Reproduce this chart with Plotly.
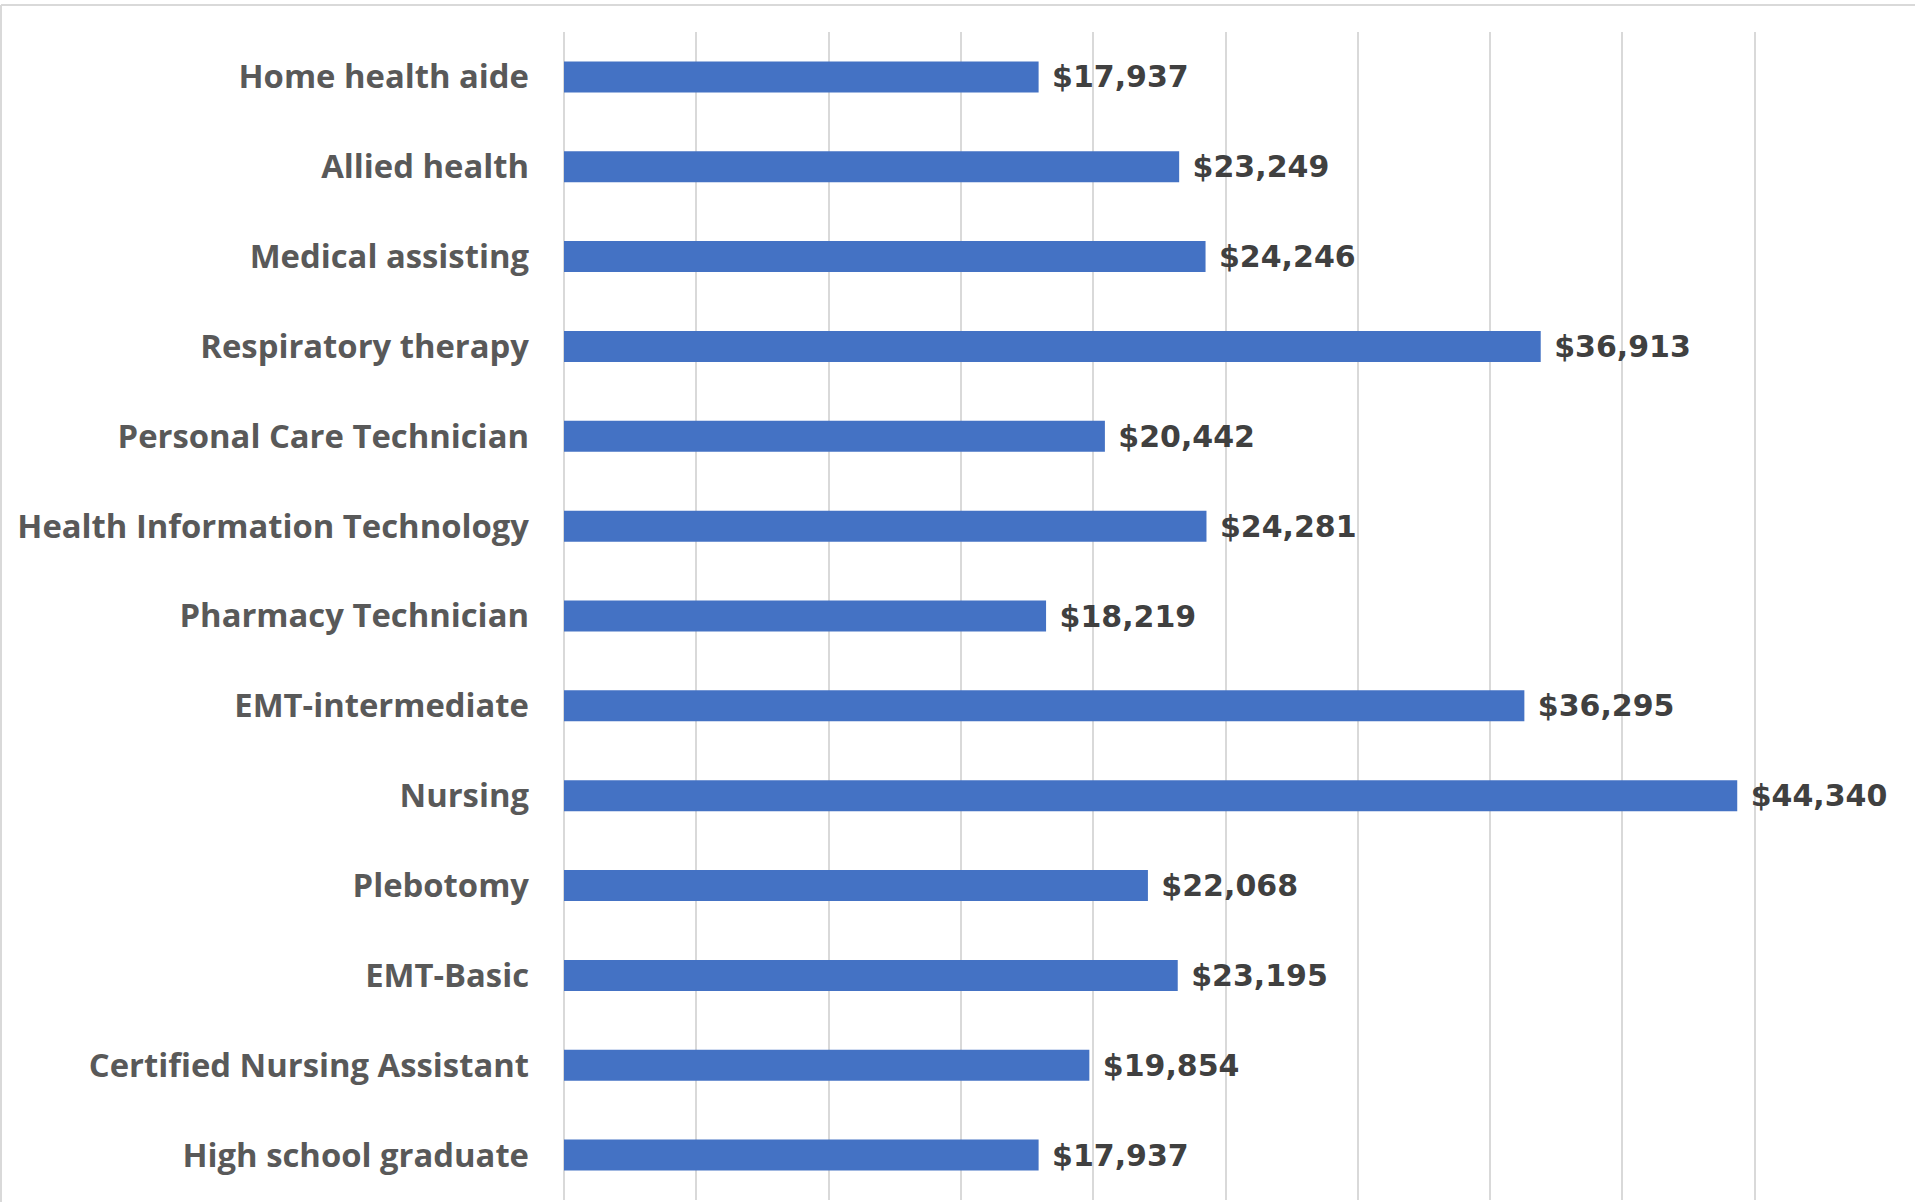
import plotly.graph_objects as go

categories = [
    "Home health aide",
    "Allied health",
    "Medical assisting",
    "Respiratory therapy",
    "Personal Care Technician",
    "Health Information Technology",
    "Pharmacy Technician",
    "EMT-intermediate",
    "Nursing",
    "Plebotomy",
    "EMT-Basic",
    "Certified Nursing Assistant",
    "High school graduate",
]
values = [17937, 23249, 24246, 36913, 20442, 24281, 18219, 36295, 44340, 22068, 23195, 19854, 17937]
value_labels = ["$" + format(v, ",") for v in values]

W, H = 1915, 1202
L, R, T, B = 564, 28, 32, 2
pw, ph = W - L - R, H - T - B

fig = go.Figure(go.Bar(
    y=categories,
    x=values,
    orientation="h",
    marker=dict(color="#4472C4", line=dict(width=0)),
    text=value_labels,
    texttemplate=" %{text}",
    textposition="outside",
    constraintext="none",
    cliponaxis=False,
    textfont=dict(family="DejaVu Sans", size=30, color="#404040", weight="bold"),
    width=0.345,
))

fig.update_layout(
    width=W, height=H,
    margin=dict(l=L, r=R, t=T, b=B, pad=0),
    paper_bgcolor="white",
    plot_bgcolor="white",
    showlegend=False,
    xaxis=dict(
        range=[0, 50000],
        dtick=5000,
        showgrid=True,
        gridcolor="#d9d9d9",
        gridwidth=2,
        showticklabels=False,
        zeroline=True,
        zerolinecolor="#d9d9d9",
        zerolinewidth=2,
        showline=False,
        ticks="",
    ),
    yaxis=dict(
        categoryorder="array",
        categoryarray=categories[::-1],
        autorange=False,
        range=[-0.5, len(categories) - 0.5],
        showgrid=False,
        showline=False,
        ticks="",
        ticklabelstandoff=34,
        tickfont=dict(family="Open Sans", size=32.8, color="#595959", weight="bold"),
    ),
)

# outer chart border (top and left visible in reference)
x_left = (1 - L) / pw
x_right = (W - L) / pw
y_top = (H - B - 5) / ph
y_bot = (H - B - H) / ph
fig.add_shape(type="line", xref="paper", yref="paper", x0=x_left, x1=x_right, y0=y_top, y1=y_top,
              line=dict(color="#d9d9d9", width=2))
fig.add_shape(type="line", xref="paper", yref="paper", x0=x_left, x1=x_left, y0=y_bot, y1=y_top,
              line=dict(color="#d9d9d9", width=2))

fig.write_html("out.html", config={"displayModeBar": False},
               post_script="document.body.style.margin='0';document.body.style.overflow='hidden';")
